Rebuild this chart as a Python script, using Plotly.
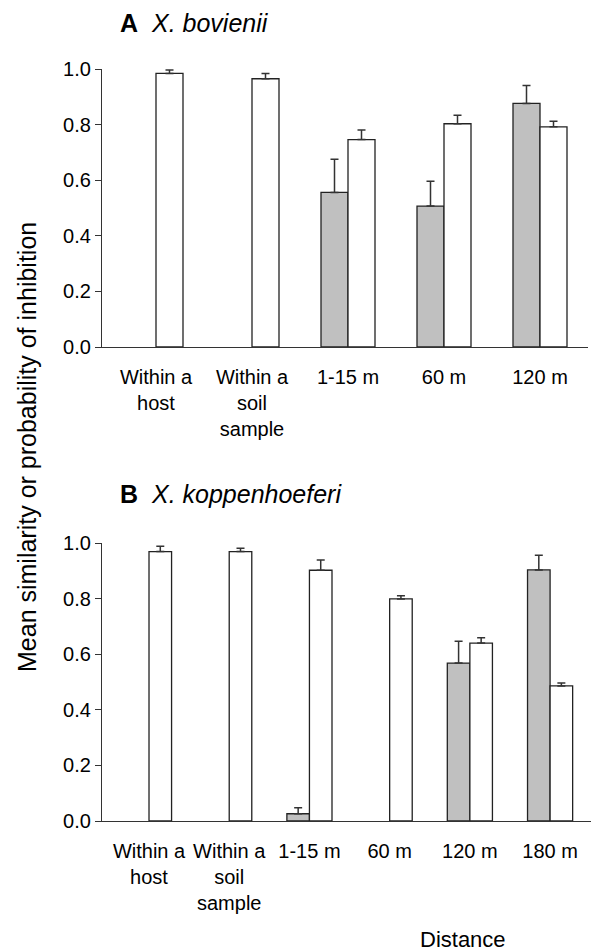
import plotly.graph_objects as go

# Panel A: X. bovienii
cats_a = ["Within a<br>host", "Within a<br>soil<br>sample", "1-15 m", "60 m", "120 m"]
gray_a = [None, None, 0.556, 0.507, 0.876]
gray_a_err = [None, None, 0.119, 0.089, 0.065]
white_a = [0.984, 0.965, 0.746, 0.803, 0.792]
white_a_err = [0.012, 0.019, 0.035, 0.031, 0.020]

# Panel B: X. koppenhoeferi
cats_b = ["Within a<br>host", "Within a<br>soil<br>sample", "1-15 m", "60 m", "120 m", "180 m"]
gray_b = [None, None, 0.026, None, 0.568, 0.903]
gray_b_err = [None, None, 0.022, None, 0.079, 0.053]
white_b = [0.969, 0.969, 0.902, 0.799, 0.640, 0.486]
white_b_err = [0.019, 0.012, 0.037, 0.011, 0.019, 0.010]

FONT = "Liberation Sans, Arial, sans-serif"
GRAY = "#c0c0c0"
EDGE = "#222222"
AXC = "#333333"
W, H = 596, 952


def err(vals):
    return dict(type="data", symmetric=False,
                array=[v if v is not None else 0 for v in vals],
                arrayminus=[0] * len(vals),
                color="#333333", thickness=1.5, width=4)


fig = go.Figure()
fig.add_trace(go.Bar(x=cats_a, y=gray_a, marker=dict(color=GRAY, line=dict(color=EDGE, width=1.3)),
                     error_y=err(gray_a_err), xaxis="x", yaxis="y", showlegend=False))
fig.add_trace(go.Bar(x=cats_a, y=white_a, marker=dict(color="white", line=dict(color=EDGE, width=1.3)),
                     error_y=err(white_a_err), xaxis="x", yaxis="y", showlegend=False))
fig.add_trace(go.Bar(x=cats_b, y=gray_b, marker=dict(color=GRAY, line=dict(color=EDGE, width=1.3)),
                     error_y=err(gray_b_err), xaxis="x2", yaxis="y2", showlegend=False))
fig.add_trace(go.Bar(x=cats_b, y=white_b, marker=dict(color="white", line=dict(color=EDGE, width=1.3)),
                     error_y=err(white_b_err), xaxis="x2", yaxis="y2", showlegend=False))

xcommon = dict(type="category", showline=True, linecolor=AXC, linewidth=1.3, ticks="",
               showgrid=False, zeroline=False, automargin=False, ticklabelstandoff=12,
               tickfont=dict(family=FONT, size=20, color="black"))
ycommon = dict(range=[0, 1.0], tickvals=[0, 0.2, 0.4, 0.6, 0.8, 1.0],
               ticktext=["0.0", "0.2", "0.4", "0.6", "0.8", "1.0"],
               showline=True, linecolor=AXC, linewidth=1.3, ticks="outside", ticklen=6,
               tickcolor=AXC, tickwidth=1.3, showgrid=False, zeroline=False, automargin=False,
               tickfont=dict(family=FONT, size=20, color="black"))

fig.update_layout(
    template="none",
    width=W, height=H, margin=dict(l=0, r=0, t=0, b=0, pad=0),
    paper_bgcolor="white", plot_bgcolor="white",
    barmode="group", bargap=0.4375, bargroupgap=0,
    xaxis=dict(**xcommon, domain=[102 / W, 588 / W], range=[-0.5625, 4.5], anchor="y"),
    yaxis=dict(**ycommon, domain=[1 - 347 / H, 1 - 69 / H], anchor="x"),
    xaxis2=dict(**xcommon, domain=[102 / W, 591 / W], range=[-0.586, 5.51], anchor="y2"),
    yaxis2=dict(**ycommon, domain=[1 - 821 / H, 1 - 543 / H], anchor="x2"),
    annotations=[
        dict(text="<b>A</b>  <i>X. bovienii</i>", x=118 / W, y=1 - 23 / H, xref="paper", yref="paper",
             xanchor="left", yanchor="middle", showarrow=False, font=dict(family=FONT, size=25, color="black")),
        dict(text="<b>B</b>  <i>X. koppenhoeferi</i>", x=118 / W, y=1 - 494 / H, xref="paper", yref="paper",
             xanchor="left", yanchor="middle", showarrow=False, font=dict(family=FONT, size=25, color="black")),
        dict(text="Mean similarity or probability of inhibition", x=27 / W, y=1 - 447 / H,
             xref="paper", yref="paper", textangle=-90, showarrow=False,
             xanchor="center", yanchor="middle", font=dict(family=FONT, size=25, color="black")),
        dict(text="Distance", x=463 / W, y=1 - 939 / H, xref="paper", yref="paper",
             showarrow=False, xanchor="center", yanchor="middle", font=dict(family=FONT, size=22, color="black")),
    ],
)

fig.write_html("out.html")
